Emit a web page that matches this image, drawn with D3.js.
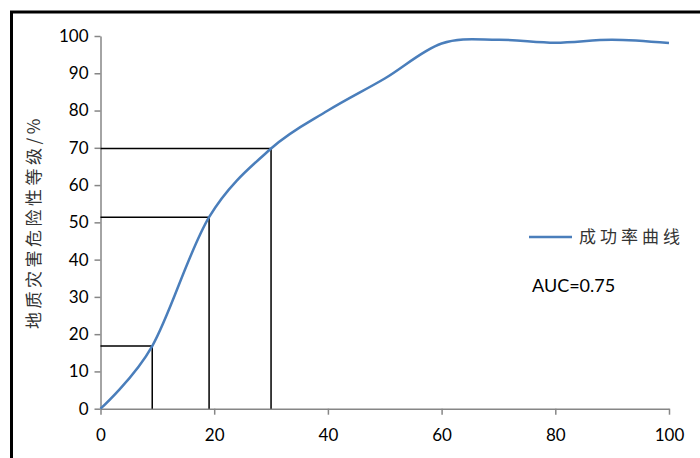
<!DOCTYPE html>
<html><head><meta charset="utf-8">
<script src="https://cdn.jsdelivr.net/npm/d3@7"></script>
<style>body{margin:0;background:#fff;} svg{display:block;}</style>
</head><body>
<script>
const xValues = [0, 9.1, 19.1, 30, 40, 50, 60, 70, 80, 90, 100];
const yValues = [0, 16.8, 51.4, 69.8, 80, 88.6, 98, 99, 98.2, 99, 98.1];
const refX = [9.1, 19.1, 30];
const refY = [16.8, 51.4, 69.8];
const xTicks = [0, 20, 40, 60, 80, 100];
const yTicks = [0, 10, 20, 30, 40, 50, 60, 70, 80, 90, 100];
const seriesName = "成功率曲线";
const yTitle = "地质灾害危险性等级/%";
const aucText = "AUC=0.75";

const W = 700, H = 458;
const svg = d3.select("body").append("svg").attr("width", W).attr("height", H);
svg.append("rect").attr("width", W).attr("height", H).attr("fill", "#fff");
svg.append("rect").attr("x", 11.5).attr("y", 12).attr("width", 800).attr("height", 800)
  .attr("fill", "none").attr("stroke", "#000").attr("stroke-width", 3);

const x = d3.scaleLinear().domain([0, 100]).range([100.5, 669]);
const y = d3.scaleLinear().domain([0, 100]).range([408.7, 36]);
const font = "Lato, 'Liberation Sans', sans-serif";

const gy = svg.append("g").attr("transform", `translate(${x(0)},0)`)
  .call(d3.axisLeft(y).tickValues(yTicks).tickSize(6).tickPadding(6).tickSizeOuter(0));
const gx = svg.append("g").attr("transform", `translate(0,${y(0)})`)
  .call(d3.axisBottom(x).tickValues(xTicks).tickSize(6).tickPadding(14).tickSizeOuter(0));
[gx, gy].forEach(g => {
  g.selectAll("path,line").attr("stroke", "#868686").attr("stroke-width", 1.5);
  g.selectAll("text").attr("fill", "#000").style("font-family", font).style("font-size", "17px");
});

// reference lines
const refG = svg.append("g");
refX.forEach((v, i) => {
  refG.append("path")
    .attr("d", `M${x(0)},${y(refY[i])}H${x(v)}V${y(0)}`)
    .attr("fill", "none").attr("stroke", "#000").attr("stroke-width", 1.5);
});

const line = d3.line().x((d, i) => x(xValues[i])).y(d => y(d)).curve(d3.curveCardinal.tension(0));
svg.append("path").datum(yValues).attr("d", line)
  .attr("fill", "none").attr("stroke", "#4A7EBB").attr("stroke-width", 2.5);

// legend
svg.append("line").attr("x1", 529).attr("x2", 572).attr("y1", 237).attr("y2", 237)
  .attr("stroke", "#4A7EBB").attr("stroke-width", 2.5);
svg.append("text").attr("x", 579).attr("y", 243).text(seriesName)
  .style("font-family", "'Noto Sans CJK SC', sans-serif").style("font-size", "17px")
  .attr("fill", "#333").attr("letter-spacing", "4px");
svg.append("text").attr("x", 532).attr("y", 292).text(aucText)
  .style("font-family", font).style("font-size", "18px").attr("fill", "#000");

svg.append("text").attr("transform", `translate(40,222) rotate(-90)`)
  .attr("text-anchor", "middle").text(yTitle)
  .style("font-family", "'Noto Sans CJK SC', sans-serif").style("font-size", "17px")
  .attr("fill", "#333").attr("letter-spacing", "3.5px");
</script>
</body></html>
